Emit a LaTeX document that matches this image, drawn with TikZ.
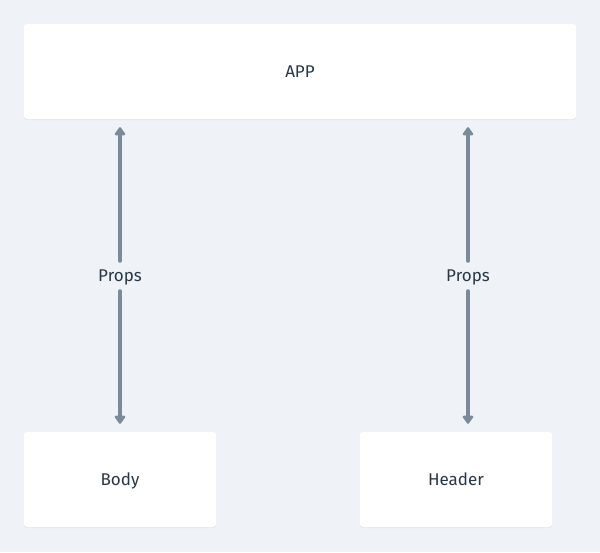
\documentclass[tikz,border=0pt]{standalone}
\usepackage{fontspec}
\setmainfont{Fira Sans}
\usetikzlibrary{arrows.meta}
\definecolor{bgc}{HTML}{EFF3F7}
\definecolor{txtc}{HTML}{283746}
\definecolor{arrc}{HTML}{7B8A9A}
\definecolor{shc}{HTML}{E3E8EE}
\tikzset{
  box/.style={fill=white, rounded corners=3pt, inner sep=0pt, text=txtc, font=\fontsize{17}{20}\selectfont,
    text height=11.7pt, text depth=0pt,
    preaction={fill=shc, transform canvas={yshift=-1.2pt}}},
  lbl/.style={inner sep=0pt, minimum height=26pt, text height=11.7pt, text depth=0pt, text=txtc, font=\fontsize{17}{20}\selectfont},
  conn/.style={draw=arrc, line width=4pt, line cap=round, -{Triangle[width=12pt,length=9pt,round]}, shorten >=8pt, shorten <=2pt}
}
\begin{document}
\begin{tikzpicture}[x=1pt,y=-1pt]
\useasboundingbox[fill=bgc] (0,0) rectangle (600,552);
\node[box, minimum width=552pt, minimum height=95pt] (app) at (300,71.5) {APP};
\node[box, minimum width=192pt, minimum height=95pt] (body) at (120,479.5) {Body};
\node[box, minimum width=192pt, minimum height=95pt] (header) at (456,479.5) {Header};
\node[lbl] (p1) at (120,276) {Props};
\node[lbl] (p2) at (468,276) {Props};
\draw[conn] (p1.north) -- (p1.north |- app.south);
\draw[conn] (p1.south) -- (p1.south |- body.north);
\draw[conn] (p2.north) -- (p2.north |- app.south);
\draw[conn] (p2.south) -- (p2.south |- header.north);
\end{tikzpicture}
\end{document}
